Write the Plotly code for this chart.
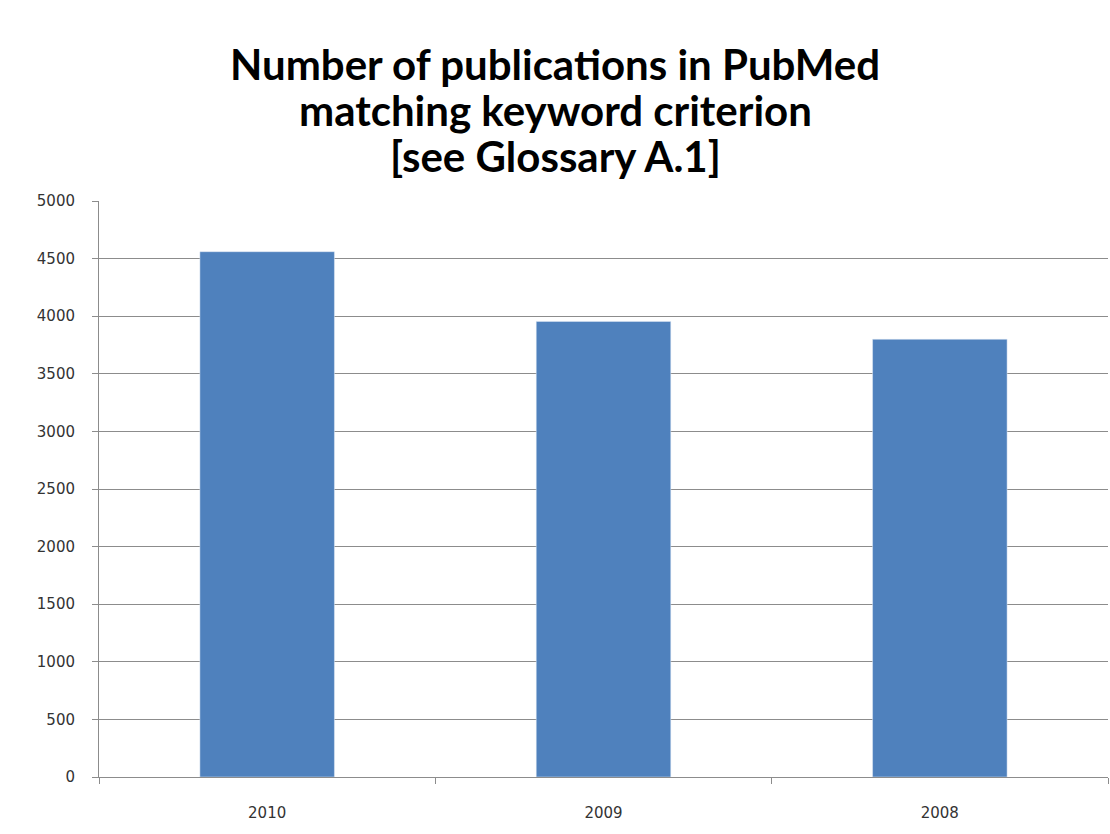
import plotly.graph_objects as go

years = ["2010", "2009", "2008"]
publications = [4560, 3955, 3800]
y_ticks = [0, 500, 1000, 1500, 2000, 2500, 3000, 3500, 4000, 4500, 5000]
title_lines = ["Number of publications in PubMed", "matching keyword criterion", "[see Glossary A.1]"]

fig = go.Figure(go.Bar(x=years, y=publications, marker_color="#4F81BD", width=0.4))

for i, line in enumerate(title_lines):
    fig.add_annotation(
        text=line, showarrow=False, xref="paper", yref="paper",
        x=(555 - 99) / 1009, y=(777 - (64 + 46 * i)) / 576,
        xanchor="center", yanchor="middle",
        font=dict(family="Lato", size=42, color="#000000", weight="bold"),
    )

fig.update_layout(
    width=1110, height=834,
    paper_bgcolor="white", plot_bgcolor="white",
    margin=dict(l=99, r=2, t=201, b=57),
    showlegend=False,
)
fig.update_yaxes(
    range=[0, 5000], tickvals=y_ticks, showgrid=True, gridcolor="#8c8c8c", gridwidth=1,
    showline=True, linecolor="#8c8c8c", ticks="outside", ticklen=6, tickcolor="#8c8c8c",
    ticklabelstandoff=14,
    tickfont=dict(family="DejaVu Sans", size=15, color="#333333"), zeroline=False,
)
fig.update_xaxes(
    showline=True, linecolor="#8c8c8c", ticks="outside", ticklen=6, tickcolor="#8c8c8c",
    tickson="boundaries", ticklabelstandoff=22,
    tickfont=dict(family="DejaVu Sans", size=15, color="#333333"),
)
fig.write_html("out.html")
